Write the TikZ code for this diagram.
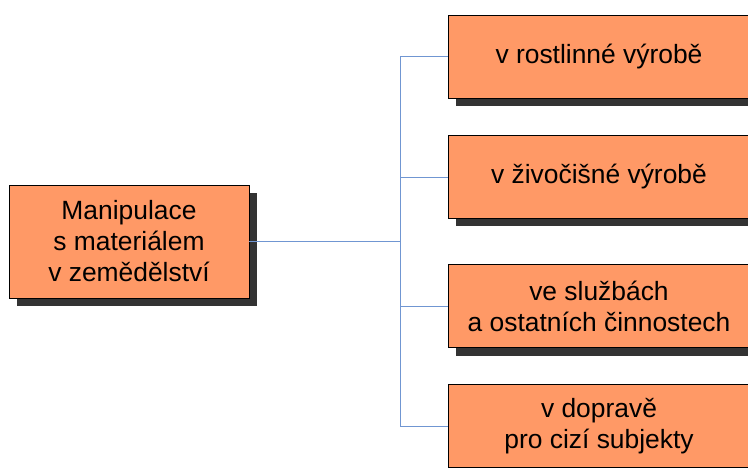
\documentclass[tikz,border=0pt]{standalone}
\usepackage{fontspec}
\setmainfont{Liberation Sans}
\usetikzlibrary{shadows}
\definecolor{boxfill}{HTML}{FF9966}
\definecolor{shade}{HTML}{333333}
\definecolor{wire}{HTML}{7096D2}
\begin{document}
\begin{tikzpicture}[x=1pt,y=-1pt,
  box/.style={draw=black, line width=0.8pt, fill=boxfill, rectangle,
    align=center, inner sep=0pt, font=\fontsize{26.4}{31}\selectfont,
    drop shadow={shadow xshift=7.5pt, shadow yshift=-8pt, fill=shade, opacity=1}},
  rootbox/.style={box, minimum width=240pt, minimum height=113pt},
  leafbox/.style={box, minimum width=302pt, minimum height=83pt},
  wirestyle/.style={draw=wire, line width=0.8pt}]
  \useasboundingbox (0,0) rectangle (748,468);
  \node[rootbox] (root) at (129,241.5) {Manipulace\\s materiálem\\v zemědělství};
  \node[leafbox] (a) at (599,56.5) {v rostlinné výrobě};
  \node[leafbox] (b) at (599,177) {v živočišné výrobě};
  \node[leafbox] (c) at (599,306) {ve službách\\a ostatních činnostech};
  \node[leafbox] (d) at (599,426) {v dopravě\\pro cizí subjekty};
  \coordinate (hub) at (400,241.5);
  \draw[wirestyle] (root.east) -- (hub);
  \foreach \n in {a,b,c,d}
    \draw[wirestyle] (hub) |- (\n.west);
\end{tikzpicture}
\end{document}
